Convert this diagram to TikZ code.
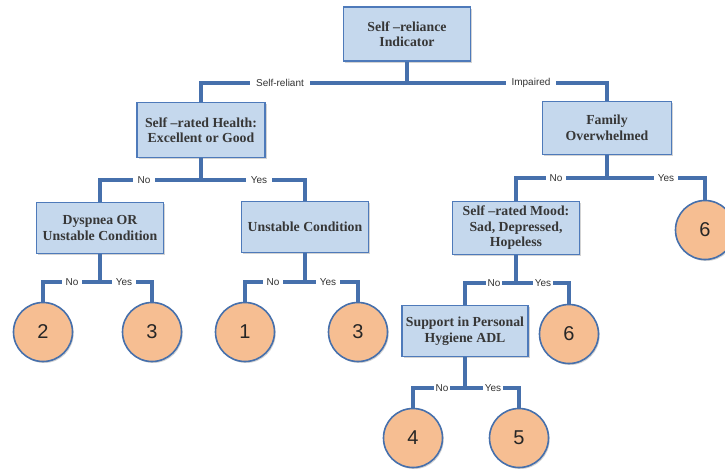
\documentclass[tikz,border=0pt]{standalone}
\usepackage{fontspec}
\setmainfont{Liberation Serif}
\setsansfont{Liberation Sans}
\usetikzlibrary{shadows}
\definecolor{conn}{RGB}{70,112,172}
\definecolor{boxfill}{RGB}{197,216,237}
\definecolor{boxline}{RGB}{78,122,186}
\definecolor{circfill}{RGB}{246,190,146}
\definecolor{txt}{RGB}{55,55,55}
\tikzset{
  box/.style={draw=boxline, line width=1.4pt, fill=boxfill, align=center, inner sep=2pt,
    font=\fontsize{13.8}{15.5}\selectfont\bfseries, text=txt,
    drop shadow={opacity=0.35, shadow xshift=1.5pt, shadow yshift=-1.5pt}},
  leaf/.style={circle, draw=conn, line width=1.6pt, fill=circfill, minimum size=59pt, inner sep=0pt,
    font=\sffamily\fontsize{20}{22}\selectfont, text=black!85,
    drop shadow={opacity=0.35, shadow xshift=1.2pt, shadow yshift=-1.5pt}},
  connline/.style={draw=conn, line width=3.4pt, line join=miter},
  lbl/.style={fill=white, inner xsep=3.5pt, inner ysep=1.5pt, font=\sffamily\fontsize{10}{11}\selectfont, text=black!80}
}
\begin{document}
\begin{tikzpicture}[x=1pt,y=-1pt]
\useasboundingbox (0,0) rectangle (725,471);
% boxes
\node[box, minimum width=127pt, minimum height=54pt] (root) at (407,34) {Self –reliance\\Indicator};
\node[box, minimum width=128pt, minimum height=55pt] (srh) at (201,130) {Self –rated Health:\\Excellent or Good};
\node[box, minimum width=129pt, minimum height=53pt] (fam) at (607,128) {Family\\Overwhelmed};
\node[box, minimum width=127pt, minimum height=51pt] (dys) at (100,228) {Dyspnea OR\\Unstable Condition};
\node[box, minimum width=127pt, minimum height=51pt] (uns) at (305,227) {Unstable Condition};
\node[box, minimum width=127pt, minimum height=53pt] (mood) at (516,228) {Self –rated Mood:\\Sad, Depressed,\\Hopeless};
\node[box, minimum width=126pt, minimum height=51pt] (sup) at (465,331) {Support in Personal\\Hygiene ADL};
% leaves
\node[leaf] (c2) at (43,332) {2};
\node[leaf] (c3a) at (152,332) {3};
\node[leaf] (c1) at (245,332) {1};
\node[leaf] (c3b) at (358,332) {3};
\node[leaf] (c6a) at (705,230) {6};
\node[leaf] (c6b) at (569,334) {6};
\node[leaf] (c4) at (413,438) {4};
\node[leaf] (c5) at (519,438) {5};
% connectors
\coordinate (b0) at (407,83);
\draw[connline] (root.south) -- (b0);
\draw[connline] (b0) -| (srh.north);
\draw[connline] (b0) -| (fam.north);
\node[lbl, inner xsep=6pt] at (280,83) {Self-reliant};
\node[lbl, inner xsep=6pt] at (531,83) {Impaired};

\coordinate (b1) at (201,180);
\draw[connline] (srh.south) -- (b1);
\draw[connline] (b1) -| (dys.north);
\draw[connline] (b1) -| (uns.north);
\node[lbl, inner xsep=5pt] at (144,180) {No};
\node[lbl, inner xsep=5pt] at (259,180) {Yes};

\coordinate (b2) at (607,178);
\draw[connline] (fam.south) -- (b2);
\draw[connline] (b2) -| (mood.north);
\draw[connline] (b2) -| (c6a.north);
\node[lbl] at (556,178) {No};
\node[lbl] at (666,178) {Yes};

\coordinate (b3) at (100,282);
\draw[connline] (dys.south) -- (b3);
\draw[connline] (b3) -| (c2.north);
\draw[connline] (b3) -| (c3a.north);
\node[lbl] at (72,282) {No};
\node[lbl] at (124,282) {Yes};

\coordinate (b4) at (305,282);
\draw[connline] (uns.south) -- (b4);
\draw[connline] (b4) -| (c1.north);
\draw[connline] (b4) -| (c3b.north);
\node[lbl] at (273,282) {No};
\node[lbl] at (328,282) {Yes};

\coordinate (b5) at (516,283);
\draw[connline] (mood.south) -- (b5);
\draw[connline] (b5) -| (sup.north);
\draw[connline] (b5) -| (c6b.north);
\node[lbl, inner xsep=1.5pt] at (494,283) {No};
\node[lbl, inner xsep=1.5pt] at (543,283) {Yes};

\coordinate (b6) at (465,388);
\draw[connline] (sup.south) -- (b6);
\draw[connline] (b6) -| (c4.north);
\draw[connline] (b6) -| (c5.north);
\node[lbl, inner xsep=1.5pt] at (442,388) {No};
\node[lbl, inner xsep=1.5pt] at (493,388) {Yes};
\end{tikzpicture}
\end{document}
